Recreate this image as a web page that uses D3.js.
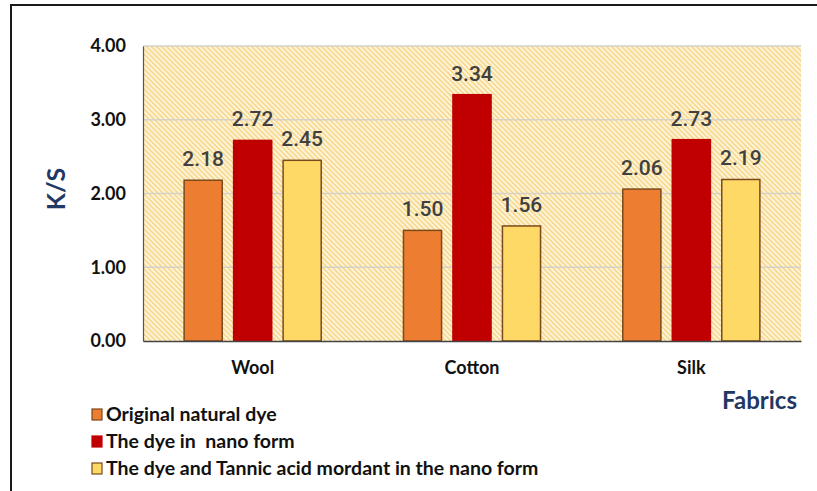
<!DOCTYPE html>
<html>
<head>
<meta charset="utf-8">
<script src="https://cdn.jsdelivr.net/npm/d3@7"></script>
<style>
  html, body { margin: 0; padding: 0; background: #fff; }
  svg { display: block; }
  text { white-space: pre; }
</style>
</head>
<body>
<svg id="chart" width="817" height="491"></svg>
<script>
// K/S colour strength per fabric for the three dyeing treatments
const fabrics = ["Wool", "Cotton", "Silk"];
const seriesNames = [
  "Original natural dye",
  "The dye in  nano form",
  "The dye and Tannic acid mordant in the nano form"
];
const originalDye = [2.18, 1.50, 2.06];
const nanoDye = [2.72, 3.34, 2.73];
const nanoTannic = [2.45, 1.56, 2.19];
const yTicks = [0, 1, 2, 3, 4];
const seriesColors = ["#ED7D31", "#C00000", "#FFD966"];
const seriesStrokes = ["#7a4a1c", "#C00000", "#7a4a1c"];

const seriesValues = [originalDye, nanoDye, nanoTannic];

const svg = d3.select("#chart");
const plot = { left: 143, right: 801, top: 46, bottom: 341 };

// outer frame
svg.append("rect")
  .attr("x", 11).attr("y", 5)
  .attr("width", 840).attr("height", 600)
  .attr("fill", "none")
  .attr("stroke", "#1a1a1a")
  .attr("stroke-width", 2);

// diagonal hatch fill for the plot area
const defs = svg.append("defs");
const pat = defs.append("pattern")
  .attr("id", "hatch")
  .attr("patternUnits", "userSpaceOnUse")
  .attr("width", 5).attr("height", 5);
pat.append("rect").attr("width", 5).attr("height", 5).attr("fill", "#fef6dc");
pat.append("path")
  .attr("d", "M-1,-1 L6,6 M-1,4 L1,6 M4,-1 L6,1")
  .attr("stroke", "#f8d88e")
  .attr("stroke-width", 1.6);

const x0 = d3.scaleBand()
  .domain(fabrics)
  .range([plot.left, plot.right])
  .paddingInner(0.375)
  .paddingOuter(0.1875);

const x1 = d3.scaleBand()
  .domain(d3.range(seriesNames.length))
  .range([0, x0.bandwidth()])
  .paddingInner(0.23)
  .paddingOuter(0);

const y = d3.scaleLinear().domain([0, 4]).range([plot.bottom, plot.top]);

svg.append("rect")
  .attr("x", plot.left).attr("y", plot.top)
  .attr("width", plot.right - plot.left)
  .attr("height", plot.bottom - plot.top)
  .attr("fill", "url(#hatch)");

// horizontal gridlines
svg.append("g")
  .selectAll("line")
  .data(yTicks.filter(d => d > 0))
  .join("line")
  .attr("x1", plot.left).attr("x2", plot.right)
  .attr("y1", d => y(d)).attr("y2", d => y(d))
  .attr("stroke", "#d6d2ca")
  .attr("stroke-width", 1.4);

// y axis with tick labels
const yAxis = d3.axisLeft(y)
  .tickValues(yTicks)
  .tickFormat(d3.format(".2f"))
  .tickSize(0)
  .tickPadding(17);
const yg = svg.append("g")
  .attr("transform", `translate(${plot.left},0)`)
  .call(yAxis);
yg.select(".domain").attr("stroke", "#555").attr("stroke-width", 1.2);
yg.selectAll("text")
  .attr("font-family", "Lato, 'Open Sans', sans-serif")
  .attr("font-weight", "bold")
  .attr("font-size", 18)
  .attr("fill", "#111");

// bars
const groups = svg.append("g")
  .selectAll("g")
  .data(fabrics)
  .join("g")
  .attr("transform", d => `translate(${x0(d)},0)`);

const cells = groups.selectAll("g")
  .data((f, i) => seriesValues.map((vals, s) => ({ s, v: vals[i] })))
  .join("g");

cells.append("rect")
  .attr("x", d => x1(d.s))
  .attr("width", x1.bandwidth())
  .attr("y", d => y(d.v))
  .attr("height", d => y(0) - y(d.v))
  .attr("fill", d => seriesColors[d.s])
  .attr("stroke", d => seriesStrokes[d.s])
  .attr("stroke-width", 1.5);

cells.append("text")
  .attr("x", d => x1(d.s) + x1.bandwidth() / 2)
  .attr("y", d => y(d.v) - 14)
  .attr("text-anchor", "middle")
  .attr("font-family", "Roboto, 'Liberation Sans', sans-serif")
  .attr("font-weight", 500)
  .attr("font-size", 21)
  .attr("fill", "#404040")
  .text(d => d.v.toFixed(2));

// x axis
const xAxis = d3.axisBottom(x0).tickSize(0).tickPadding(20);
const xg = svg.append("g")
  .attr("transform", `translate(0,${plot.bottom})`)
  .call(xAxis);
xg.select(".domain").attr("stroke", "#444").attr("stroke-width", 1.5);
xg.selectAll("text")
  .attr("font-family", "Lato, 'Open Sans', sans-serif")
  .attr("font-weight", "bold")
  .attr("font-size", 18)
  .attr("fill", "#111");

// axis titles
svg.append("text")
  .attr("transform", "translate(65,189) rotate(-90)")
  .attr("text-anchor", "middle")
  .attr("font-family", "Lato, 'Open Sans', sans-serif")
  .attr("font-weight", "bold")
  .attr("font-size", 25)
  .attr("fill", "#1f3864")
  .text("K/S");

svg.append("text")
  .attr("x", 797).attr("y", 409)
  .attr("text-anchor", "end")
  .attr("font-family", "Lato, 'Open Sans', sans-serif")
  .attr("font-weight", "bold")
  .attr("font-size", 24)
  .attr("fill", "#1f3864")
  .text("Fabrics");

// legend
const legend = svg.append("g")
  .selectAll("g")
  .data(seriesNames)
  .join("g")
  .attr("transform", (d, i) => `translate(92,${414 + i * 27})`);

legend.append("rect")
  .attr("x", 0).attr("y", -5)
  .attr("width", 10).attr("height", 11)
  .attr("fill", (d, i) => seriesColors[i])
  .attr("stroke", (d, i) => seriesStrokes[i])
  .attr("stroke-width", 1.2);

legend.append("text")
  .attr("x", 14).attr("y", 0)
  .attr("dy", "0.36em")
  .attr("font-family", "Lato, 'Open Sans', sans-serif")
  .attr("font-weight", "bold")
  .attr("font-size", 19.5)
  .attr("fill", "#111")
  .text(d => d);
</script>
</body>
</html>
